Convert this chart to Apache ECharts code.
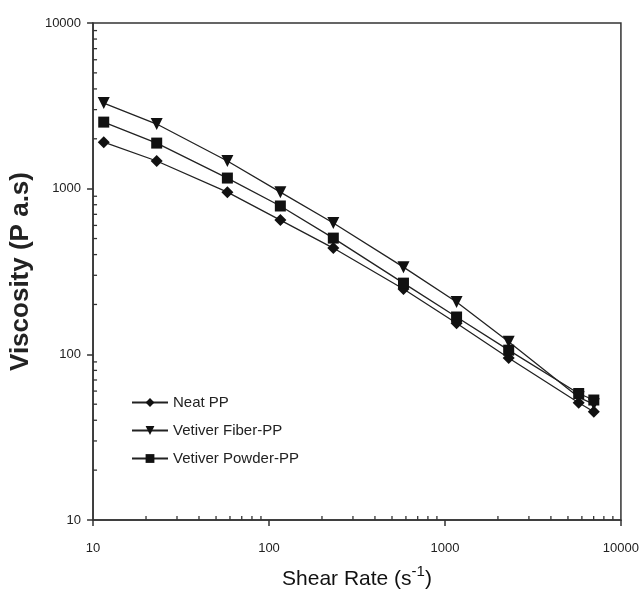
<!DOCTYPE html>
<html>
<head>
<meta charset="utf-8">
<script src="https://cdn.jsdelivr.net/npm/echarts@6/dist/echarts.min.js"></script>
<style>html,body{margin:0;padding:0;background:#fff}#c{width:642px;height:597px}</style>
</head>
<body>
<div id="c"></div>
<script>
var shearRate = [11.5, 23, 58, 116, 232, 581, 1164, 2302, 5755, 7014];
var neatPP = [1909, 1469, 953, 646, 438, 248, 154, 95, 51, 45];
var fiberPP = [3286, 2455, 1469, 953, 620, 336, 207, 119, 55, 50];
var powderPP = [2522, 1884, 1159, 786, 503, 269, 168, 106, 58, 53];
var seriesNames = ['Neat PP', 'Vetiver Fiber-PP', 'Vetiver Powder-PP'];
var minorTicks = [20,30,40,50,60,70,80,90,200,300,400,500,600,700,800,900,2000,3000,4000,5000,6000,7000,8000,9000];

var FONT = '"Liberation Sans Narrow", "Liberation Sans", Arial, sans-serif';
function pairs(ys){ return shearRate.map(function(x,i){return [x, ys[i]];}); }
function plain(v){ return String(Math.round(v)); }

var chart = echarts.init(document.getElementById('c'), null, {renderer:'canvas'});
chart.setOption({
  animation:false,
  backgroundColor:'#fff',
  grid:{left:93, right:21, top:23, bottom:77, show:true, borderColor:'#333', borderWidth:1.5},
  legend:{
    left:126, top:390, orient:'vertical', itemGap:13, itemWidth:36, itemHeight:11,
    textStyle:{fontFamily:FONT, fontSize:15, color:'#222'},
    data:seriesNames
  },
  xAxis:{
    type:'log', logBase:10, min:10, max:10000,
    name:'{a|Shear Rate (s}{b|-1}{a|)}', nameLocation:'middle', nameGap:44,
    nameTextStyle:{rich:{a:{fontFamily:FONT, fontSize:21, color:'#111', verticalAlign:'bottom', lineHeight:26}, b:{fontFamily:FONT, fontSize:15, color:'#111', verticalAlign:'top', lineHeight:26}}},
    axisLine:{lineStyle:{color:'#333', width:1.5}},
    axisTick:{inside:false, length:6, lineStyle:{color:'#333', width:1.5}},
    axisLabel:{fontFamily:FONT, fontSize:13, color:'#222', margin:22, formatter:plain},
    splitLine:{show:false}
  },
  yAxis:{
    type:'log', logBase:10, min:10, max:10000,
    name:'Viscosity (P a.s)', nameLocation:'middle', nameGap:57,
    nameTextStyle:{fontFamily:'"Liberation Sans", Arial, sans-serif', fontWeight:'bold', fontSize:26, color:'#222'},
    axisLine:{lineStyle:{color:'#333', width:1.5}},
    axisTick:{inside:false, length:6, lineStyle:{color:'#333', width:1.5}},
    axisLabel:{fontFamily:FONT, fontSize:13, color:'#222', margin:12, formatter:plain},
    splitLine:{show:false}
  },
  series:[
    {name:seriesNames[0], type:'line', data:pairs(neatPP), symbol:'diamond', symbolSize:12,
     itemStyle:{color:'#111'}, lineStyle:{color:'#222', width:1.3}},
    {name:seriesNames[1], type:'line', data:pairs(fiberPP), symbol:'triangle', symbolRotate:180, symbolSize:12,
     itemStyle:{color:'#111'}, lineStyle:{color:'#222', width:1.3}},
    {name:seriesNames[2], type:'line', data:pairs(powderPP), symbol:'rect', symbolSize:11,
     itemStyle:{color:'#111'}, lineStyle:{color:'#222', width:1.3}},
    {type:'custom', silent:true, legendHoverLink:false,
     data:minorTicks.map(function(v){return [v];}),
     renderItem:function(params, api){
       var v = api.value(0);
       var px = api.coord([v, 10]);
       var py = api.coord([10, v]);
       return {type:'group', children:[
         {type:'line', shape:{x1:px[0], y1:px[1], x2:px[0], y2:px[1]-4}, style:{stroke:'#333', lineWidth:1.3}},
         {type:'line', shape:{x1:py[0], y1:py[1], x2:py[0]+4, y2:py[1]}, style:{stroke:'#333', lineWidth:1.3}}
       ]};
     }
    }
  ]
});
</script>
</body>
</html>
